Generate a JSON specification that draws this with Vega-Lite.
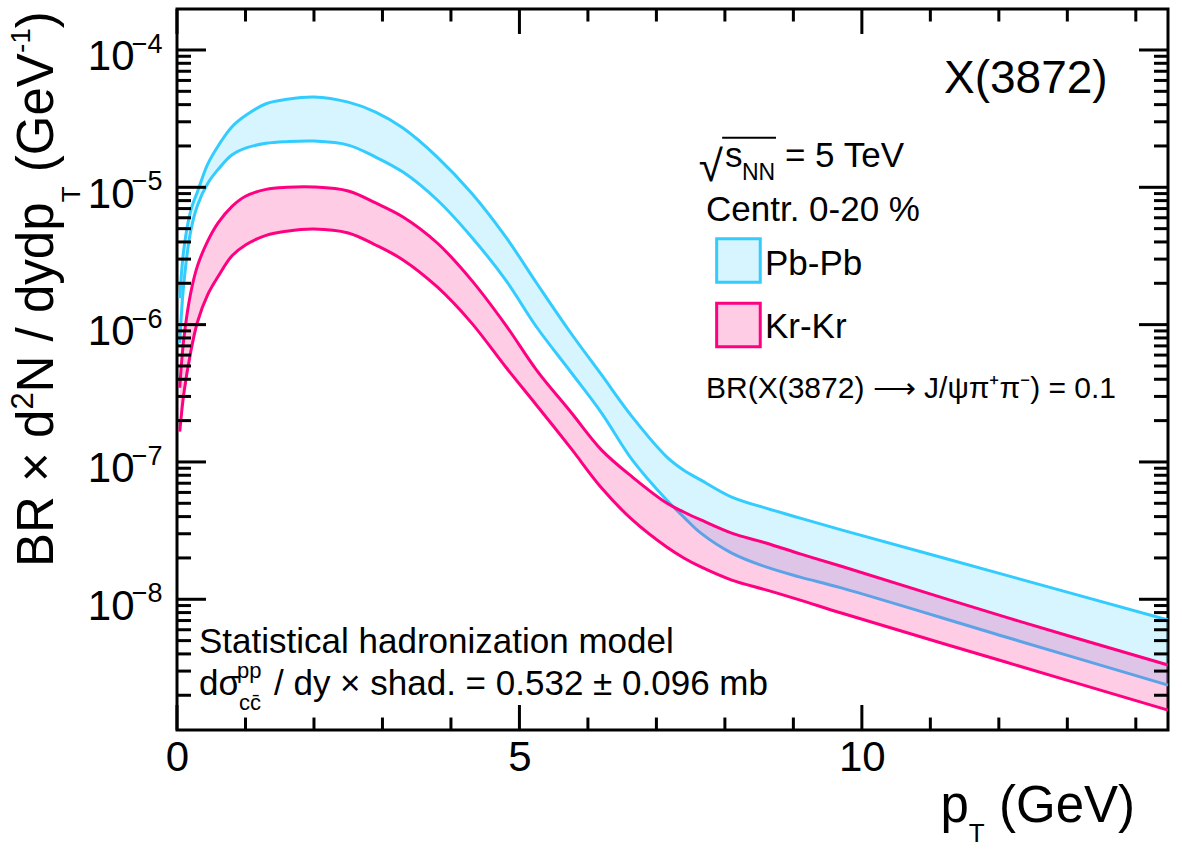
{
  "$schema": "https://vega.github.io/schema/vega-lite/v6.json",
  "width": 991,
  "height": 721,
  "autosize": "none",
  "padding": {"left": 177, "top": 9, "right": 14, "bottom": 120},
  "background": "white",
  "config": {
    "view": {"stroke": "black", "strokeWidth": 3},
    "font": "Liberation Sans",
    "axis": {"domain": false, "grid": false, "ticks": false, "title": null, "labelFont": "Liberation Sans", "labelColor": "black", "labelFontSize": 42},
    "text": {"font": "Liberation Sans", "color": "black"}
  },
  "datasets": {
    "xmajor": [{"v": 0}, {"v": 5}, {"v": 10}],
    "xminor": [{"v": 1}, {"v": 2}, {"v": 3}, {"v": 4}, {"v": 6}, {"v": 7}, {"v": 8}, {"v": 9}, {"v": 11}, {"v": 12}, {"v": 13}, {"v": 14}],
    "ymajor": [{"v": 1e-8}, {"v": 1e-7}, {"v": 1e-6}, {"v": 1e-5}, {"v": 1e-4}],
    "yminor": [{"v": 2e-9}, {"v": 3e-9}, {"v": 4e-9}, {"v": 5e-9}, {"v": 6e-9}, {"v": 7e-9}, {"v": 8e-9}, {"v": 9e-9},
               {"v": 2e-8}, {"v": 3e-8}, {"v": 4e-8}, {"v": 5e-8}, {"v": 6e-8}, {"v": 7e-8}, {"v": 8e-8}, {"v": 9e-8},
               {"v": 2e-7}, {"v": 3e-7}, {"v": 4e-7}, {"v": 5e-7}, {"v": 6e-7}, {"v": 7e-7}, {"v": 8e-7}, {"v": 9e-7},
               {"v": 2e-6}, {"v": 3e-6}, {"v": 4e-6}, {"v": 5e-6}, {"v": 6e-6}, {"v": 7e-6}, {"v": 8e-6}, {"v": 9e-6},
               {"v": 2e-5}, {"v": 3e-5}, {"v": 4e-5}, {"v": 5e-5}, {"v": 6e-5}, {"v": 7e-5}, {"v": 8e-5}, {"v": 9e-5}],
    "bands": [
      {"pT": 0.04, "sys": "Pb-Pb", "hi": 1.56e-6, "lo": 7.35e-7},
      {"pT": 0.1, "sys": "Pb-Pb", "hi": 3.55e-6, "lo": 2.0e-6},
      {"pT": 0.2, "sys": "Pb-Pb", "hi": 6.76e-6, "lo": 4.79e-6},
      {"pT": 0.3, "sys": "Pb-Pb", "hi": 9.33e-6, "lo": 7.41e-6},
      {"pT": 0.45, "sys": "Pb-Pb", "hi": 1.48e-5, "lo": 1.07e-5},
      {"pT": 0.6, "sys": "Pb-Pb", "hi": 2.0e-5, "lo": 1.35e-5},
      {"pT": 0.8, "sys": "Pb-Pb", "hi": 2.75e-5, "lo": 1.72e-5},
      {"pT": 1.0, "sys": "Pb-Pb", "hi": 3.33e-5, "lo": 1.93e-5},
      {"pT": 1.3, "sys": "Pb-Pb", "hi": 4.06e-5, "lo": 2.09e-5},
      {"pT": 1.6, "sys": "Pb-Pb", "hi": 4.37e-5, "lo": 2.15e-5},
      {"pT": 2.0, "sys": "Pb-Pb", "hi": 4.55e-5, "lo": 2.17e-5},
      {"pT": 2.5, "sys": "Pb-Pb", "hi": 4.17e-5, "lo": 2.03e-5},
      {"pT": 2.9, "sys": "Pb-Pb", "hi": 3.53e-5, "lo": 1.66e-5},
      {"pT": 3.3, "sys": "Pb-Pb", "hi": 2.70e-5, "lo": 1.29e-5},
      {"pT": 3.8, "sys": "Pb-Pb", "hi": 1.66e-5, "lo": 8.08e-6},
      {"pT": 4.3, "sys": "Pb-Pb", "hi": 9.08e-6, "lo": 4.35e-6},
      {"pT": 4.8, "sys": "Pb-Pb", "hi": 4.35e-6, "lo": 2.11e-6},
      {"pT": 5.25, "sys": "Pb-Pb", "hi": 2.01e-6, "lo": 9.61e-7},
      {"pT": 5.75, "sys": "Pb-Pb", "hi": 8.69e-7, "lo": 4.52e-7},
      {"pT": 6.2, "sys": "Pb-Pb", "hi": 4.30e-7, "lo": 2.27e-7},
      {"pT": 6.65, "sys": "Pb-Pb", "hi": 2.12e-7, "lo": 1.03e-7},
      {"pT": 7.15, "sys": "Pb-Pb", "hi": 1.09e-7, "lo": 5.28e-8},
      {"pT": 7.4, "sys": "Pb-Pb", "hi": 8.71e-8, "lo": 3.97e-8},
      {"pT": 7.65, "sys": "Pb-Pb", "hi": 7.38e-8, "lo": 3.03e-8},
      {"pT": 8.1, "sys": "Pb-Pb", "hi": 5.55e-8, "lo": 2.17e-8},
      {"pT": 8.6, "sys": "Pb-Pb", "hi": 4.61e-8, "lo": 1.72e-8},
      {"pT": 9.1, "sys": "Pb-Pb", "hi": 3.90e-8, "lo": 1.45e-8},
      {"pT": 9.7, "sys": "Pb-Pb", "hi": 3.2e-8, "lo": 1.21e-8},
      {"pT": 12.1, "sys": "Pb-Pb", "hi": 1.50e-8, "lo": 5.31e-9},
      {"pT": 14.47, "sys": "Pb-Pb", "hi": 7.06e-9, "lo": 2.37e-9},
      {"pT": 0.04, "sys": "Kr-Kr", "hi": 3.47e-7, "lo": 1.66e-7},
      {"pT": 0.1, "sys": "Kr-Kr", "hi": 7.94e-7, "lo": 3.16e-7},
      {"pT": 0.2, "sys": "Kr-Kr", "hi": 1.70e-6, "lo": 6.31e-7},
      {"pT": 0.3, "sys": "Kr-Kr", "hi": 2.69e-6, "lo": 1.05e-6},
      {"pT": 0.45, "sys": "Kr-Kr", "hi": 4.07e-6, "lo": 1.66e-6},
      {"pT": 0.6, "sys": "Kr-Kr", "hi": 5.50e-6, "lo": 2.24e-6},
      {"pT": 0.8, "sys": "Kr-Kr", "hi": 7.24e-6, "lo": 3.16e-6},
      {"pT": 1.0, "sys": "Kr-Kr", "hi": 8.61e-6, "lo": 3.80e-6},
      {"pT": 1.3, "sys": "Kr-Kr", "hi": 9.66e-6, "lo": 4.47e-6},
      {"pT": 1.6, "sys": "Kr-Kr", "hi": 1.0e-5, "lo": 4.79e-6},
      {"pT": 2.0, "sys": "Kr-Kr", "hi": 1.005e-5, "lo": 4.97e-6},
      {"pT": 2.5, "sys": "Kr-Kr", "hi": 9.40e-6, "lo": 4.65e-6},
      {"pT": 2.9, "sys": "Kr-Kr", "hi": 7.69e-6, "lo": 3.80e-6},
      {"pT": 3.3, "sys": "Kr-Kr", "hi": 6.08e-6, "lo": 2.96e-6},
      {"pT": 3.8, "sys": "Kr-Kr", "hi": 3.93e-6, "lo": 1.88e-6},
      {"pT": 4.3, "sys": "Kr-Kr", "hi": 2.11e-6, "lo": 1.03e-6},
      {"pT": 4.8, "sys": "Kr-Kr", "hi": 9.93e-7, "lo": 4.91e-7},
      {"pT": 5.25, "sys": "Kr-Kr", "hi": 4.67e-7, "lo": 2.59e-7},
      {"pT": 5.75, "sys": "Kr-Kr", "hi": 2.31e-7, "lo": 1.26e-7},
      {"pT": 6.2, "sys": "Kr-Kr", "hi": 1.22e-7, "lo": 6.46e-8},
      {"pT": 6.65, "sys": "Kr-Kr", "hi": 7.76e-8, "lo": 3.78e-8},
      {"pT": 7.15, "sys": "Kr-Kr", "hi": 5.02e-8, "lo": 2.40e-8},
      {"pT": 7.4, "sys": "Kr-Kr", "hi": 4.32e-8, "lo": 2.0e-8},
      {"pT": 7.65, "sys": "Kr-Kr", "hi": 3.78e-8, "lo": 1.72e-8},
      {"pT": 8.1, "sys": "Kr-Kr", "hi": 3.03e-8, "lo": 1.38e-8},
      {"pT": 8.6, "sys": "Kr-Kr", "hi": 2.57e-8, "lo": 1.17e-8},
      {"pT": 9.1, "sys": "Kr-Kr", "hi": 2.14e-8, "lo": 9.86e-9},
      {"pT": 9.7, "sys": "Kr-Kr", "hi": 1.74e-8, "lo": 7.94e-9},
      {"pT": 12.1, "sys": "Kr-Kr", "hi": 7.41e-9, "lo": 3.49e-9},
      {"pT": 14.47, "sys": "Kr-Kr", "hi": 3.32e-9, "lo": 1.56e-9}
    ]
  },
  "layer": [
    {
      "data": {"name": "bands"},
      "transform": [{"filter": "datum.sys === 'Pb-Pb'"}],
      "mark": {"type": "area", "fill": "#33ccff", "fillOpacity": 0.2, "strokeWidth": 0, "interpolate": "catmull-rom"},
      "encoding": {
        "x": {"field": "pT", "type": "quantitative", "scale": {"domain": [0, 14.47], "nice": false},
              "axis": {"orient": "bottom", "values": [0, 5, 10], "labelPadding": 7, "labelBaseline": "top", "labelFlush": false, "labelOverlap": false, "format": "d"}},
        "y": {"field": "hi", "type": "quantitative", "scale": {"type": "log", "domain": [1.117e-9, 1.988e-4], "nice": false},
              "axis": {"orient": "left", "values": [1e-8, 1e-7, 1e-6, 1e-5, 1e-4], "labelExpr": "'10'", "labelPadding": 43, "labelOffset": 7, "labelBaseline": "middle", "labelAlign": "right", "labelOverlap": false, "labelFlush": false}},
        "y2": {"field": "lo"}
      }
    },
    {
      "data": {"name": "bands"},
      "transform": [{"filter": "datum.sys === 'Pb-Pb'"}, {"fold": ["lo", "hi"], "as": ["edge", "val"]}],
      "mark": {"type": "line", "color": "#33ccff", "strokeWidth": 3, "interpolate": "catmull-rom"},
      "encoding": {
        "x": {"field": "pT", "type": "quantitative"},
        "y": {"field": "val", "type": "quantitative"},
        "detail": {"field": "edge"}
      }
    },
    {
      "data": {"name": "bands"},
      "transform": [{"filter": "datum.sys === 'Kr-Kr'"}],
      "mark": {"type": "area", "fill": "#ff0080", "fillOpacity": 0.2, "strokeWidth": 0, "interpolate": "catmull-rom"},
      "encoding": {
        "x": {"field": "pT", "type": "quantitative"},
        "y": {"field": "hi", "type": "quantitative"},
        "y2": {"field": "lo"}
      }
    },
    {
      "data": {"name": "bands"},
      "transform": [{"filter": "datum.sys === 'Kr-Kr'"}, {"fold": ["lo", "hi"], "as": ["edge", "val"]}],
      "mark": {"type": "line", "color": "#ff0080", "strokeWidth": 3, "interpolate": "catmull-rom"},
      "encoding": {
        "x": {"field": "pT", "type": "quantitative"},
        "y": {"field": "val", "type": "quantitative"},
        "detail": {"field": "edge"}
      }
    },
    {
      "data": {"name": "xmajor"},
      "mark": {"type": "rule", "color": "black", "strokeWidth": 3},
      "encoding": {"x": {"field": "v", "type": "quantitative"}, "y": {"datum": 1.117e-9}, "y2": {"datum": 1.698e-9}}
    },
    {
      "data": {"name": "xmajor"},
      "mark": {"type": "rule", "color": "black", "strokeWidth": 3},
      "encoding": {"x": {"field": "v", "type": "quantitative"}, "y": {"datum": 1.988e-4}, "y2": {"datum": 1.308e-4}}
    },
    {
      "data": {"name": "xminor"},
      "mark": {"type": "rule", "color": "black", "strokeWidth": 3},
      "encoding": {"x": {"field": "v", "type": "quantitative"}, "y": {"datum": 1.117e-9}, "y2": {"datum": 1.377e-9}}
    },
    {
      "data": {"name": "xminor"},
      "mark": {"type": "rule", "color": "black", "strokeWidth": 3},
      "encoding": {"x": {"field": "v", "type": "quantitative"}, "y": {"datum": 1.988e-4}, "y2": {"datum": 1.612e-4}}
    },
    {
      "data": {"name": "ymajor"},
      "mark": {"type": "rule", "color": "black", "strokeWidth": 3},
      "encoding": {"y": {"field": "v", "type": "quantitative"}, "x": {"datum": 0}, "x2": {"datum": 0.4234}}
    },
    {
      "data": {"name": "ymajor"},
      "mark": {"type": "rule", "color": "black", "strokeWidth": 3},
      "encoding": {"y": {"field": "v", "type": "quantitative"}, "x": {"datum": 14.47}, "x2": {"datum": 14.0466}}
    },
    {
      "data": {"name": "yminor"},
      "mark": {"type": "rule", "color": "black", "strokeWidth": 3},
      "encoding": {"y": {"field": "v", "type": "quantitative"}, "x": {"datum": 0}, "x2": {"datum": 0.2044}}
    },
    {
      "data": {"name": "yminor"},
      "mark": {"type": "rule", "color": "black", "strokeWidth": 3},
      "encoding": {"y": {"field": "v", "type": "quantitative"}, "x": {"datum": 14.47}, "x2": {"datum": 14.2656}}
    },
    {
      "data": {"values": [{"v": 1e-8, "e": "−8"}, {"v": 1e-7, "e": "−7"}, {"v": 1e-6, "e": "−6"}, {"v": 1e-5, "e": "−5"}, {"v": 1e-4, "e": "−4"}]},
      "mark": {"type": "text", "align": "left", "baseline": "middle", "fontSize": 27, "dy": -5},
      "encoding": {
        "x": {"datum": -0.66},
        "y": {"field": "v", "type": "quantitative"},
        "text": {"field": "e"}
      }
    },
    {
      "data": {"values": [{"t": "BR × d"}]},
      "mark": {"type": "text", "align": "left", "baseline": "alphabetic", "fontSize": 51, "angle": 270},
      "encoding": {"x": {"datum": -1.8105}, "y": {"datum": 1.719e-8}, "text": {"field": "t"}}
    },
    {
      "data": {"values": [{"t": "2"}]},
      "mark": {"type": "text", "align": "left", "baseline": "alphabetic", "fontSize": 31, "angle": 270},
      "encoding": {"x": {"datum": -2.1025}, "y": {"datum": 2.407e-7}, "text": {"field": "t"}}
    },
    {
      "data": {"values": [{"t": "N / dydp"}]},
      "mark": {"type": "text", "align": "left", "baseline": "alphabetic", "fontSize": 51, "angle": 270},
      "encoding": {"x": {"datum": -1.8105}, "y": {"datum": 3.211e-7}, "text": {"field": "t"}}
    },
    {
      "data": {"values": [{"t": "T"}]},
      "mark": {"type": "text", "align": "left", "baseline": "alphabetic", "fontSize": 26, "angle": 270},
      "encoding": {"x": {"datum": -1.4163}, "y": {"datum": 7.78e-6}, "text": {"field": "t"}}
    },
    {
      "data": {"values": [{"t": "(GeV"}]},
      "mark": {"type": "text", "align": "left", "baseline": "alphabetic", "fontSize": 51, "angle": 270},
      "encoding": {"x": {"datum": -1.8105}, "y": {"datum": 1.289e-5}, "text": {"field": "t"}}
    },
    {
      "data": {"values": [{"t": "-1"}]},
      "mark": {"type": "text", "align": "left", "baseline": "alphabetic", "fontSize": 28, "angle": 270},
      "encoding": {"x": {"datum": -2.1463}, "y": {"datum": 9.494e-5}, "text": {"field": "t"}}
    },
    {
      "data": {"values": [{"t": ")"}]},
      "mark": {"type": "text", "align": "left", "baseline": "alphabetic", "fontSize": 51, "angle": 270},
      "encoding": {"x": {"datum": -1.8105}, "y": {"datum": 1.441e-4}, "text": {"field": "t"}}
    },
    {
      "data": {"values": [{"t": "p"}]},
      "mark": {"type": "text", "align": "left", "baseline": "alphabetic", "fontSize": 51},
      "encoding": {"x": {"datum": 11.148}, "y": {"datum": 2.39e-10}, "text": {"field": "t"}}
    },
    {
      "data": {"values": [{"t": "T"}]},
      "mark": {"type": "text", "align": "left", "baseline": "alphabetic", "fontSize": 26},
      "encoding": {"x": {"datum": 11.562}, "y": {"datum": 1.7e-10}, "text": {"field": "t"}}
    },
    {
      "data": {"values": [{"t": "(GeV)"}]},
      "mark": {"type": "text", "align": "left", "baseline": "alphabetic", "fontSize": 51},
      "encoding": {"x": {"datum": 12.002}, "y": {"datum": 2.39e-10}, "text": {"field": "t"}}
    },
    {
      "data": {"values": [{"t": "X(3872)"}]},
      "mark": {"type": "text", "align": "left", "baseline": "alphabetic", "fontSize": 46},
      "encoding": {"x": {"datum": 11.199}, "y": {"datum": 4.863e-5}, "text": {"field": "t"}}
    },
    {
      "data": {"values": [{"t": "√"}]},
      "mark": {"type": "text", "align": "left", "baseline": "alphabetic", "fontSize": 44},
      "encoding": {"x": {"datum": 7.62}, "y": {"datum": 1.12e-5}, "text": {"field": "t"}}
    },
    {
      "data": {"values": [{}]},
      "mark": {"type": "rule", "color": "black", "strokeWidth": 2},
      "encoding": {"x": {"datum": 7.96}, "x2": {"datum": 8.746}, "y": {"datum": 2.3e-5}}
    },
    {
      "data": {"values": [{"t": "s"}]},
      "mark": {"type": "text", "align": "left", "baseline": "alphabetic", "fontSize": 35},
      "encoding": {"x": {"datum": 8.001}, "y": {"datum": 1.413e-5}, "text": {"field": "t"}}
    },
    {
      "data": {"values": [{"t": "NN"}]},
      "mark": {"type": "text", "align": "left", "baseline": "alphabetic", "fontSize": 23},
      "encoding": {"x": {"datum": 8.249}, "y": {"datum": 1.131e-5}, "text": {"field": "t"}}
    },
    {
      "data": {"values": [{"t": "= 5 TeV"}]},
      "mark": {"type": "text", "align": "left", "baseline": "alphabetic", "fontSize": 35},
      "encoding": {"x": {"datum": 8.877}, "y": {"datum": 1.413e-5}, "text": {"field": "t"}}
    },
    {
      "data": {"values": [{"t": "Centr. 0-20 %"}]},
      "mark": {"type": "text", "align": "left", "baseline": "alphabetic", "fontSize": 35},
      "encoding": {"x": {"datum": 7.724}, "y": {"datum": 5.715e-6}, "text": {"field": "t"}}
    },
    {
      "data": {"values": [{"sys": "Pb-Pb"}]},
      "mark": {"type": "point", "shape": "square", "filled": true, "fill": "#d6f5ff", "stroke": "#33ccff", "strokeWidth": 3, "size": 1900, "opacity": 1},
      "encoding": {"x": {"datum": 8.198}, "y": {"datum": 2.932e-6}}
    },
    {
      "data": {"values": [{"t": "Pb-Pb"}]},
      "mark": {"type": "text", "align": "left", "baseline": "alphabetic", "fontSize": 35},
      "encoding": {"x": {"datum": 8.585}, "y": {"datum": 2.299e-6}, "text": {"field": "t"}}
    },
    {
      "data": {"values": [{"sys": "Kr-Kr"}]},
      "mark": {"type": "point", "shape": "square", "filled": true, "fill": "#ffcce6", "stroke": "#ff0080", "strokeWidth": 3, "size": 1900, "opacity": 1},
      "encoding": {"x": {"datum": 8.198}, "y": {"datum": 9.94e-7}}
    },
    {
      "data": {"values": [{"t": "Kr-Kr"}]},
      "mark": {"type": "text", "align": "left", "baseline": "alphabetic", "fontSize": 35},
      "encoding": {"x": {"datum": 8.585}, "y": {"datum": 7.958e-7}, "text": {"field": "t"}}
    },
    {
      "data": {"values": [{"t": "BR(X(3872) ⟶ J/ψπ⁺π⁻) = 0.1"}]},
      "mark": {"type": "text", "align": "left", "baseline": "alphabetic", "fontSize": 30},
      "encoding": {"x": {"datum": 7.724}, "y": {"datum": 2.909e-7}, "text": {"field": "t"}}
    },
    {
      "data": {"values": [{"t": "Statistical hadronization model"}]},
      "mark": {"type": "text", "align": "left", "baseline": "alphabetic", "fontSize": 35},
      "encoding": {"x": {"datum": 0.3212}, "y": {"datum": 4.086e-9}, "text": {"field": "t"}}
    },
    {
      "data": {"values": [{"t": "dσ"}]},
      "mark": {"type": "text", "align": "left", "baseline": "alphabetic", "fontSize": 35},
      "encoding": {"x": {"datum": 0.3212}, "y": {"datum": 2.01e-9}, "text": {"field": "t"}}
    },
    {
      "data": {"values": [{"t": "pp"}]},
      "mark": {"type": "text", "align": "left", "baseline": "alphabetic", "fontSize": 22},
      "encoding": {"x": {"datum": 0.876}, "y": {"datum": 2.65e-9}, "text": {"field": "t"}}
    },
    {
      "data": {"values": [{"t": "cc̄"}]},
      "mark": {"type": "text", "align": "left", "baseline": "alphabetic", "fontSize": 22},
      "encoding": {"x": {"datum": 0.905}, "y": {"datum": 1.563e-9}, "text": {"field": "t"}}
    },
    {
      "data": {"values": [{"t": "/ dy × shad. = 0.532 ± 0.096 mb"}]},
      "mark": {"type": "text", "align": "left", "baseline": "alphabetic", "fontSize": 35},
      "encoding": {"x": {"datum": 1.416}, "y": {"datum": 2.01e-9}, "text": {"field": "t"}}
    }
  ]
}
